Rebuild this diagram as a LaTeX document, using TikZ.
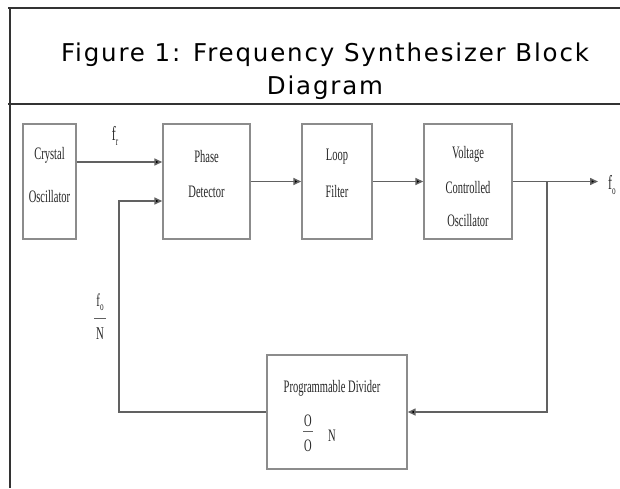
\documentclass[tikz,border=0pt]{standalone}
\usepackage{fontspec}
\setmainfont{Liberation Serif}
\newfontfamily\titlefont[LetterSpace=7.5]{DejaVu Sans}
\newfontfamily\diagfont[FakeStretch=0.6]{Liberation Serif}
\usetikzlibrary{arrows.meta}
\newcommand\mysub[1]{\raisebox{-0.5ex}{\fontsize{12}{12}\selectfont #1}}
\begin{document}
\begin{tikzpicture}[x=1pt,y=-1pt,
  frameline/.style={line width=2pt, draw=black!80},
  block/.style={draw=black!45, line width=1.4pt, inner sep=0pt},
  lbl/.style={font=\diagfont\fontsize{17.5}{17.5}\selectfont, text=black!85, align=center, inner sep=0pt},
  conn/.style={draw=black!62, line width=1.5pt},
  arr/.style={conn, -{Triangle[length=8pt,width=7pt,fill=black]}},
  ttl/.style={font=\titlefont\fontsize{24.5}{33}\selectfont, align=center, inner sep=0pt}
]
\useasboundingbox (0,0) rectangle (620,488);
% frame
\coordinate (tl) at (8,8);
\coordinate (tr) at (620,8);
\coordinate (ml) at (8,104);
\coordinate (mr) at (620,104);
\coordinate (lt) at (10,8);
\coordinate (lb) at (10,488);
\draw[frameline] (tl) -- (tr);
\draw[frameline] (ml) -- (mr);
\draw[frameline] (lt) -- (lb);
\node[ttl] (title) at (325,71) {Figure 1: Frequency Synthesizer Block\\Diagram};
% blocks
\node[block, minimum width=53pt, minimum height=115pt] (xo) at (49.5,181.5) {};
\node[block, minimum width=87pt, minimum height=115pt] (pd) at (206.5,181.5) {};
\node[block, minimum width=70pt, minimum height=115pt] (lf) at (337,181.5) {};
\node[block, minimum width=88pt, minimum height=115pt] (vco) at (468,181.5) {};
\node[block, minimum width=140pt, minimum height=114pt] (div) at (337,412) {};
% block texts
\node[lbl] (t1) at (49.5,155) {Crystal};
\node[lbl] (t2) at (49.5,197) {Oscillator};
\node[lbl] (t3) at (206.5,157) {Phase};
\node[lbl] (t4) at (206.5,192) {Detector};
\node[lbl] (t5) at (337,157) {Loop};
\node[lbl] (t6) at (337,192) {Filter};
\node[lbl] (t7) at (468,154) {Voltage};
\node[lbl] (t8) at (468,188) {Controlled};
\node[lbl] (t9) at (468,221) {Oscillator};
\node[lbl] (t10) at (332,388) {Programmable Divider};
\node[lbl] (t11a) at (308,421) {O};
\draw[conn, line width=0.9pt] (303,431) -- (313,431);
\node[lbl] (t11b) at (308,446) {O};
\node[lbl] (t12) at (332,436) {N};
% signal labels
\node[lbl, font=\diagfont\fontsize{20}{20}\selectfont] (fr) at (115,136) {f\mysub{r}};
\node[lbl, font=\diagfont\fontsize{20}{20}\selectfont] (fo) at (612,185) {f\mysub{o}};
\node[lbl, font=\diagfont\fontsize{18}{18}\selectfont] (fon1) at (100,302) {f\mysub{o}};
\draw[conn, line width=0.9pt] (94,318) -- (106,318);
\node[lbl, font=\diagfont\fontsize{18}{18}\selectfont] (fon2) at (100,334) {N};
% connectors
\coordinate (j) at (547,181.5);
\coordinate (out) at (598,181.5);
\coordinate (jb) at (547,412);
\coordinate (fbl) at (119,412);
\coordinate (fbt) at (119,201);
\draw[arr] (xo.east |- 0,162) -- (pd.west |- 0,162);
\draw[arr] (pd.east) -- (lf.west);
\draw[arr] (lf.east) -- (vco.west);
\draw[arr] (vco.east) -- (out);
\draw[arr] (j) -- (jb) -- (div.east);
\draw[arr] (div.west) -- (fbl) -- (fbt) -- (pd.west |- fbt);
\end{tikzpicture}
\end{document}
